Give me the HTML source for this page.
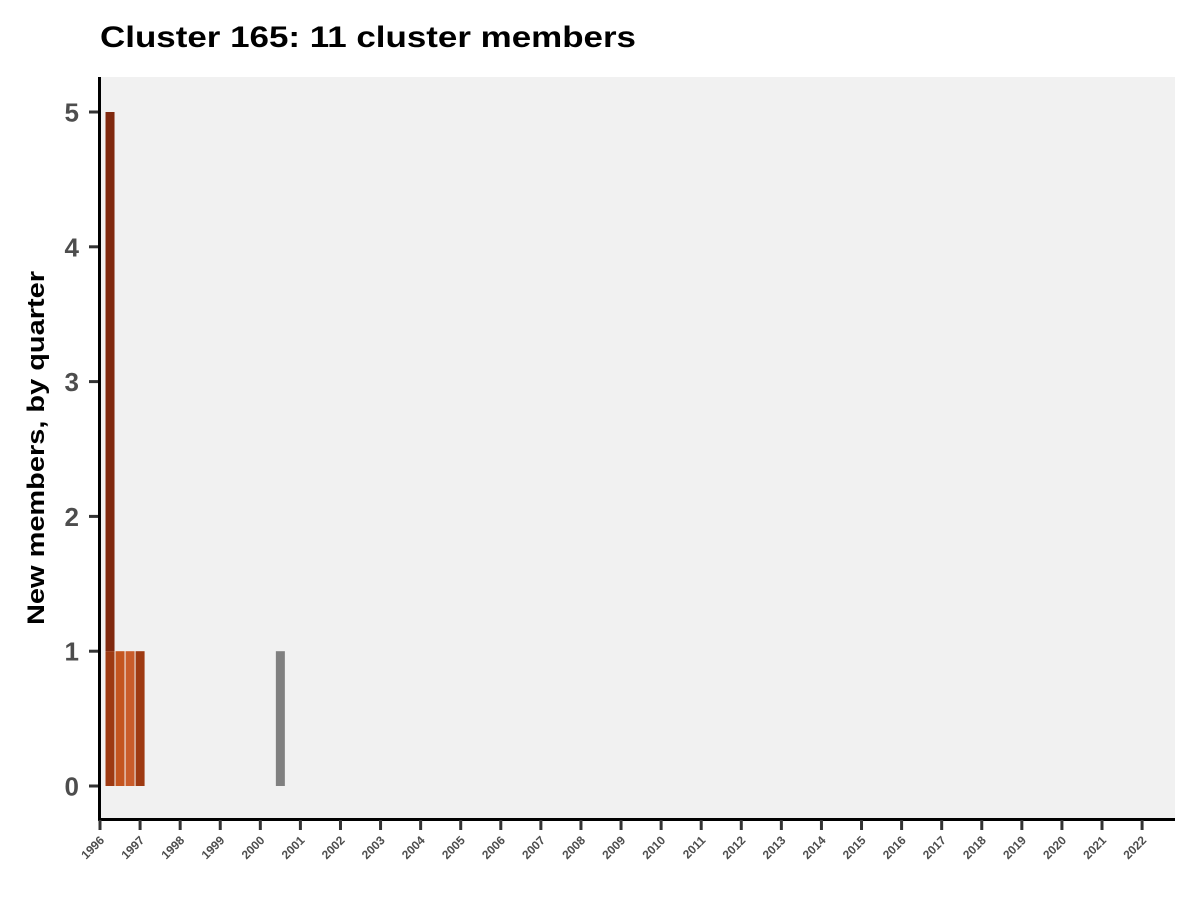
<!DOCTYPE html>
<html><head><meta charset="utf-8"><style>
body{margin:0;background:#fff;}
svg{display:block;font-family:"Liberation Sans",sans-serif;}
</style></head><body>
<svg id="c" width="1200" height="900">
<text x="100" y="47" font-size="30" font-weight="bold" fill="#000" textLength="536" lengthAdjust="spacingAndGlyphs">Cluster 165: 11 cluster members</text>
<rect x="101" y="77" width="1074" height="741" fill="#f1f1f1"/>
<text transform="translate(44,448) rotate(-90)" text-anchor="middle" font-size="24" font-weight="bold" fill="#000" textLength="354" lengthAdjust="spacingAndGlyphs">New members, by quarter</text>
<g id="marks"></g>
<line x1="99.5" y1="77" x2="99.5" y2="821" stroke="#000" stroke-width="3"/>
<line x1="98" y1="819.5" x2="1175" y2="819.5" stroke="#000" stroke-width="3"/>
<g id="axes"></g>
</svg>
<script>
const dates=[1996.25,1996.25,1996.5,1996.75,1997.0,2000.5];
const bases=[0,1,0,0,0,0];
const values=[1,4,1,1,1,1];
const colors=["#9e3a12","#80290f","#c4551f","#c95c2a","#9e3a12","#808080"];
const yTicks=[0,1,2,3,4,5];
const years=[];for(let y=1996;y<=2022;y++)years.push(y);
const ns="http://www.w3.org/2000/svg";
const X=d=>100+(d-1996)*40.08;
const Y=v=>786-v*134.8;
const marks=document.getElementById('marks'),axes=document.getElementById('axes');
dates.forEach((d,i)=>{
 const r=document.createElementNS(ns,'rect');
 r.setAttribute('x',X(d)-4.5);r.setAttribute('width',9);
 r.setAttribute('y',Y(bases[i]+values[i]));r.setAttribute('height',Y(bases[i])-Y(bases[i]+values[i]));
 r.setAttribute('fill',colors[i]);
 
 
 marks.appendChild(r);
});
yTicks.forEach(v=>{
 const l=document.createElementNS(ns,'line');
 l.setAttribute('x1',89);l.setAttribute('x2',98);l.setAttribute('y1',Y(v));l.setAttribute('y2',Y(v));
 l.setAttribute('stroke','#333');l.setAttribute('stroke-width',3);
 
 
 axes.appendChild(l);
 const t=document.createElementNS(ns,'text');
 t.setAttribute('x',79);t.setAttribute('y',Y(v)+9.5);t.setAttribute('text-anchor','end');
 t.setAttribute('font-size',26);t.setAttribute('font-weight','bold');t.setAttribute('fill','#4d4d4d');
 t.textContent=v;
 
 
 axes.appendChild(t);
});
years.forEach(y=>{
 const x=X(y);
 const l=document.createElementNS(ns,'line');
 l.setAttribute('x1',x);l.setAttribute('x2',x);l.setAttribute('y1',820);l.setAttribute('y2',830);
 l.setAttribute('stroke','#333');l.setAttribute('stroke-width',3);
 
 
 axes.appendChild(l);
 const t=document.createElementNS(ns,'text');
 t.setAttribute('transform','translate('+(x+5)+',841) rotate(-45)');
 t.setAttribute('text-anchor','end');t.setAttribute('font-size',12);t.setAttribute('font-weight','bold');t.setAttribute('fill','#4d4d4d');
 t.textContent=y;
 
 
 axes.appendChild(t);
});
</script>
</body></html>
